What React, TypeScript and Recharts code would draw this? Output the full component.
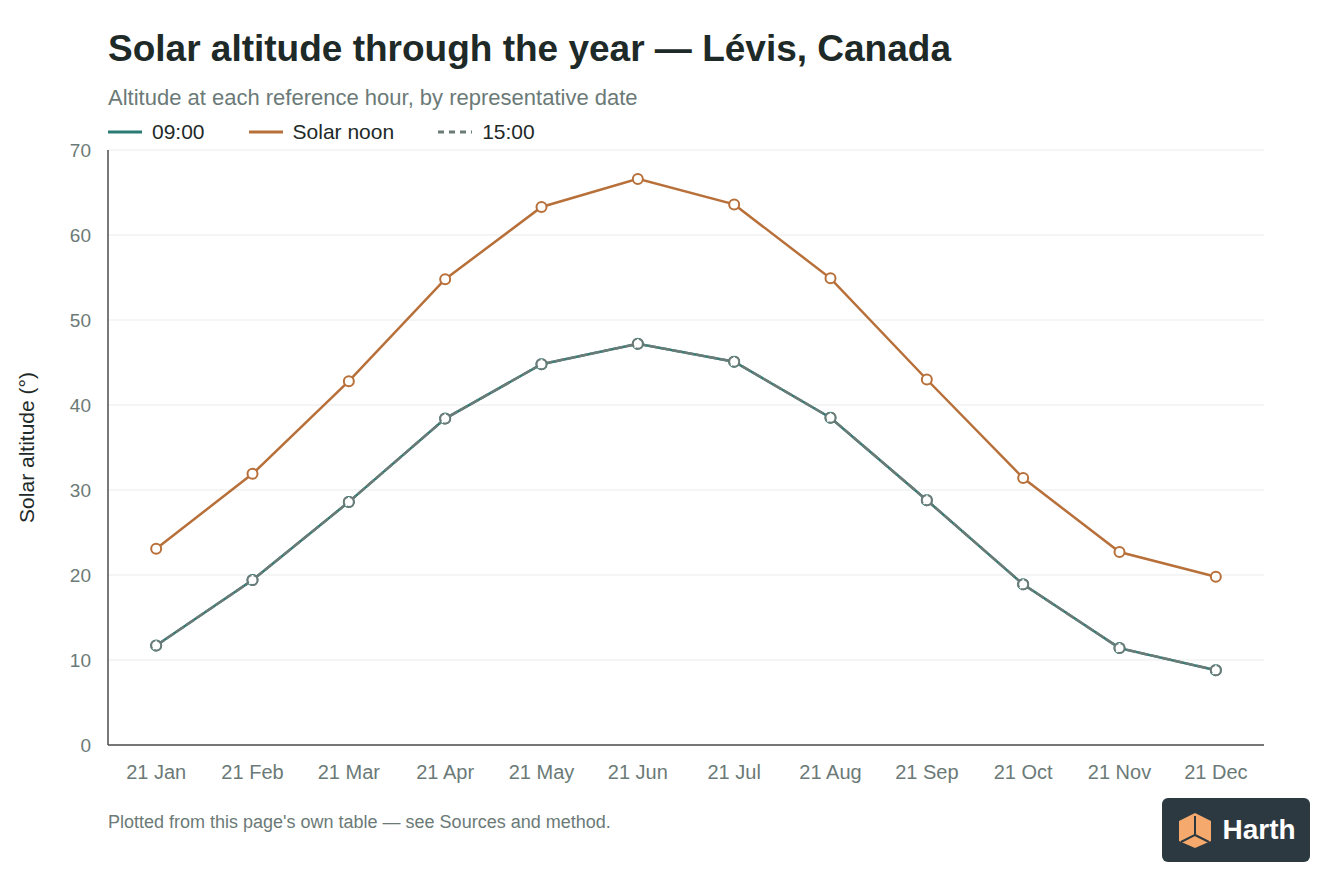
import { CartesianGrid, Line, LineChart, XAxis, YAxis } from "recharts";

const months = ["21 Jan", "21 Feb", "21 Mar", "21 Apr", "21 May", "21 Jun", "21 Jul", "21 Aug", "21 Sep", "21 Oct", "21 Nov", "21 Dec"];
const morning = [11.7, 19.4, 28.6, 38.4, 44.8, 47.2, 45.1, 38.5, 28.8, 18.9, 11.4, 8.8];
const noon = [23.1, 31.9, 42.8, 54.8, 63.3, 66.6, 63.6, 54.9, 43.0, 31.4, 22.7, 19.8];
const afternoon = [11.7, 19.4, 28.6, 38.4, 44.8, 47.2, 45.1, 38.5, 28.8, 18.9, 11.4, 8.8];
const yTicks = [0, 10, 20, 30, 40, 50, 60, 70];

const TEAL = "#2b7a74";
const COPPER = "#b8703a";
const GREY = "#6b7b77";
const FONT = "'Liberation Sans', Arial, Helvetica, sans-serif";

const data = months.map((label, i) => ({
  label,
  morning: morning[i],
  noon: noon[i],
  afternoon: afternoon[i],
}));

function LegendItem({ color, label, dashed }: { color: string; label: string; dashed?: boolean }) {
  return (
    <span style={{ display: "flex", alignItems: "center", gap: 10, marginRight: 44 }}>
      <svg width={34} height={4}>
        <line
          x1={0}
          y1={2}
          x2={34}
          y2={2}
          stroke={color}
          strokeWidth={3}
          strokeDasharray={dashed ? "6 5" : undefined}
        />
      </svg>
      {label}
    </span>
  );
}

function Logo() {
  return (
    <div
      style={{
        position: "absolute",
        left: 1162,
        top: 798,
        width: 148,
        height: 64,
        borderRadius: 6,
        background: "#2c3940",
        display: "flex",
        alignItems: "center",
        justifyContent: "center",
        gap: 8,
      }}
    >
      <svg width={38} height={38} viewBox="0 0 38 38">
        <polygon points="19,2 35,10 35,30 19,37 3,30 3,10" fill="#f6a96c" />
        <polyline points="19,5 19,24 5,31" fill="none" stroke="#2c3940" strokeWidth={2} />
        <line x1={19} y1={24} x2={33} y2={31} stroke="#2c3940" strokeWidth={2} />
      </svg>
      <span style={{ color: "#ffffff", fontFamily: FONT, fontWeight: 700, fontSize: 28 }}>Harth</span>
    </div>
  );
}

export default function App() {
  return (
    <div style={{ position: "absolute", left: 0, top: 0, width: 1344, height: 896, background: "#ffffff", fontFamily: FONT }}>
      <div style={{ position: "absolute", left: 108, top: 28, fontSize: 37, fontWeight: 700, color: "#1e2a28", whiteSpace: "nowrap" }}>
        Solar altitude through the year — Lévis, Canada
      </div>
      <div style={{ position: "absolute", left: 108, top: 85, fontSize: 22, color: "#6b7a77", whiteSpace: "nowrap" }}>
        Altitude at each reference hour, by representative date
      </div>
      <div style={{ position: "absolute", left: 108, top: 120, fontSize: 21, color: "#1e2a28", display: "flex" }}>
        <LegendItem color={TEAL} label="09:00" />
        <LegendItem color={COPPER} label="Solar noon" />
        <LegendItem color={GREY} label="15:00" dashed />
      </div>
      <div style={{ position: "absolute", left: 0, top: 0 }}>
        <LineChart width={1344} height={896} data={data} margin={{ top: 150, right: 80, left: 48, bottom: 111 }}>
          <CartesianGrid vertical={false} stroke="#e9ecea" strokeWidth={1} />
          <XAxis
            dataKey="label"
            scale="band"
            axisLine={{ stroke: "#4d4d4d", strokeWidth: 1.5 }}
            tickLine={false}
            tickSize={0}
            tickMargin={20}
            height={40}
            tick={{ fill: "#6b7a77", fontSize: 20, fontFamily: FONT }}
          />
          <YAxis
            domain={[0, 70]}
            ticks={yTicks}
            width={60}
            axisLine={{ stroke: "#4d4d4d", strokeWidth: 1.5 }}
            tickLine={false}
            tickSize={0}
            tickMargin={17}
            tick={{ fill: "#6b7a77", fontSize: 19, fontFamily: FONT }}
            label={{
              value: "Solar altitude (°)",
              angle: -90,
              position: "insideLeft",
              offset: -21,
              style: { fill: "#1e2a28", fontSize: 21, fontFamily: FONT, textAnchor: "middle" },
            }}
          />
          <Line
            dataKey="noon"
            stroke={COPPER}
            strokeWidth={2.5}
            dot={{ r: 5, fill: "#ffffff", stroke: COPPER, strokeWidth: 2 }}
            isAnimationActive={false}
          />
          <Line
            dataKey="morning"
            stroke={TEAL}
            strokeWidth={2.5}
            dot={{ r: 5, fill: "#ffffff", stroke: TEAL, strokeWidth: 2 }}
            isAnimationActive={false}
          />
          <Line
            dataKey="afternoon"
            stroke={GREY}
            strokeWidth={2.5}
            strokeDasharray="10 2"
            dot={{ r: 5, fill: "#ffffff", stroke: GREY, strokeWidth: 2 }}
            isAnimationActive={false}
          />
        </LineChart>
      </div>
      <div style={{ position: "absolute", left: 108, top: 812, fontSize: 18, color: "#6b7a77", whiteSpace: "nowrap" }}>
        Plotted from this page's own table — see Sources and method.
      </div>
      <Logo />
    </div>
  );
}
